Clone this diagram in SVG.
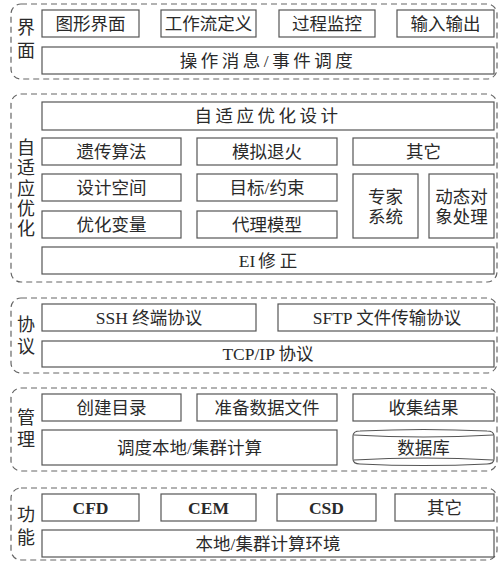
<svg xmlns="http://www.w3.org/2000/svg" width="499" height="562" viewBox="0 0 499 562">
<style>
.grp{fill:none;stroke:#666;stroke-width:1.2;stroke-dasharray:6 4}
.box{fill:#fff;stroke:#555;stroke-width:1.2}
text{font-family:"Liberation Serif","Noto Sans CJK SC",serif;font-size:17.5px;fill:#2a2a2a;text-anchor:middle;dominant-baseline:central}
.lab{font-size:18px}
.lat{font-weight:bold}
</style>
<rect width="499" height="562" fill="#fff"/>

<g id="sec-ui">
<rect class="grp" x="11" y="4" width="486" height="75" rx="10"/>
<text class="lab" x="26" y="28">界</text>
<text class="lab" x="26" y="51">面</text>
</g>
<g id="n-gui"><rect class="box" x="42" y="10" width="97" height="27"/><text x="90.5" y="23.5">图形界面</text></g>
<g id="n-wf"><rect class="box" x="161" y="10" width="95" height="27"/><text x="208.5" y="23.5">工作流定义</text></g>
<g id="n-mon"><rect class="box" x="279" y="10" width="96" height="27"/><text x="327" y="23.5">过程监控</text></g>
<g id="n-io"><rect class="box" x="397" y="10" width="97" height="27"/><text x="445.5" y="23.5">输入输出</text></g>
<g id="n-msg"><rect class="box" x="42" y="47" width="452" height="27"/><text x="268" y="60.5" letter-spacing="3.5">操作消息/事件调度</text></g>

<g id="sec-opt">
<rect class="grp" x="11" y="94" width="486" height="188" rx="10"/>
<text class="lab" x="26" y="148">自</text>
<text class="lab" x="26" y="168">适</text>
<text class="lab" x="26" y="189">应</text>
<text class="lab" x="26" y="209">优</text>
<text class="lab" x="26" y="229">化</text>
</g>
<g id="n-adopt"><rect class="box" x="42" y="102" width="452" height="28"/><text x="268" y="116" letter-spacing="3.5">自适应优化设计</text></g>
<g id="n-ga"><rect class="box" x="42" y="138" width="139" height="27"/><text x="111.5" y="151.5">遗传算法</text></g>
<g id="n-sa"><rect class="box" x="197" y="138" width="140" height="27"/><text x="267" y="151.5">模拟退火</text></g>
<g id="n-other1"><rect class="box" x="353" y="138" width="141" height="27"/><text x="423.5" y="151.5">其它</text></g>
<g id="n-ds"><rect class="box" x="42" y="174" width="139" height="27"/><text x="111.5" y="187.5">设计空间</text></g>
<g id="n-obj"><rect class="box" x="197" y="174" width="140" height="27"/><text x="267" y="187.5">目标/约束</text></g>
<g id="n-exp"><rect class="box" x="353" y="174" width="65" height="64"/><text x="385.5" y="197">专家</text><text x="385.5" y="217">系统</text></g>
<g id="n-dyn"><rect class="box" x="429" y="174" width="65" height="64"/><text x="461.5" y="197">动态对</text><text x="461.5" y="217">象处理</text></g>
<g id="n-var"><rect class="box" x="42" y="211" width="139" height="27"/><text x="111.5" y="224.5">优化变量</text></g>
<g id="n-sur"><rect class="box" x="197" y="211" width="140" height="27"/><text x="267" y="224.5">代理模型</text></g>
<g id="n-ei"><rect class="box" x="42" y="247" width="452" height="27"/><text x="268" y="260.5">EI<tspan dx="3">修</tspan><tspan dx="4">正</tspan></text></g>

<g id="sec-proto">
<rect class="grp" x="11" y="298" width="486" height="75" rx="10"/>
<text class="lab" x="26" y="325">协</text>
<text class="lab" x="26" y="347">议</text>
</g>
<g id="n-ssh"><rect class="box" x="42" y="304" width="214" height="27"/><text x="149" y="317.5">SSH 终端协议</text></g>
<g id="n-sftp"><rect class="box" x="278" y="304" width="216" height="27"/><text x="387" y="317.5">SFTP 文件传输协议</text></g>
<g id="n-tcp"><rect class="box" x="42" y="341" width="452" height="26"/><text x="268" y="354">TCP/IP 协议</text></g>

<g id="sec-mgmt">
<rect class="grp" x="11" y="388" width="486" height="83" rx="10"/>
<text class="lab" x="26" y="418">管</text>
<text class="lab" x="26" y="440">理</text>
</g>
<g id="n-mkdir"><rect class="box" x="42" y="394" width="139" height="27"/><text x="111.5" y="407.5">创建目录</text></g>
<g id="n-prep"><rect class="box" x="197" y="394" width="140" height="27"/><text x="267" y="407.5">准备数据文件</text></g>
<g id="n-collect"><rect class="box" x="353" y="394" width="141" height="27"/><text x="423.5" y="407.5">收集结果</text></g>
<g id="n-sched"><rect class="box" x="42" y="430" width="295" height="35"/><text x="189.5" y="447.5">调度本地/集群计算</text></g>
<g id="n-db">
<path class="box" d="M353,436 Q353,431 360,431 Q423.5,428 487,431 Q494,431 494,436 L494,459 Q494,464 487,464 Q423.5,467 360,464 Q353,464 353,459 Z"/>
<path d="M354,435 Q423.5,439 493,435 M354,460 Q423.5,456 493,460" fill="none" stroke="#555" stroke-width="1.1"/>
<text x="423.5" y="447.5">数据库</text>
</g>

<g id="sec-func">
<rect class="grp" x="11" y="488" width="486" height="72" rx="10"/>
<text class="lab" x="26" y="515">功</text>
<text class="lab" x="26" y="538">能</text>
</g>
<g id="n-cfd"><rect class="box" x="42" y="494" width="97" height="27"/><text class="lat" x="90.5" y="507.5">CFD</text></g>
<g id="n-cem"><rect class="box" x="161" y="494" width="95" height="27"/><text class="lat" x="208.5" y="507.5">CEM</text></g>
<g id="n-csd"><rect class="box" x="277" y="494" width="99" height="27"/><text class="lat" x="326.5" y="507.5">CSD</text></g>
<g id="n-other2"><rect class="box" x="395" y="494" width="99" height="27"/><text x="444.5" y="507.5">其它</text></g>
<g id="n-env"><rect class="box" x="42" y="530" width="452" height="27"/><text x="268" y="543.5">本地/集群计算环境</text></g>

<g id="connectors"></g>
</svg>
